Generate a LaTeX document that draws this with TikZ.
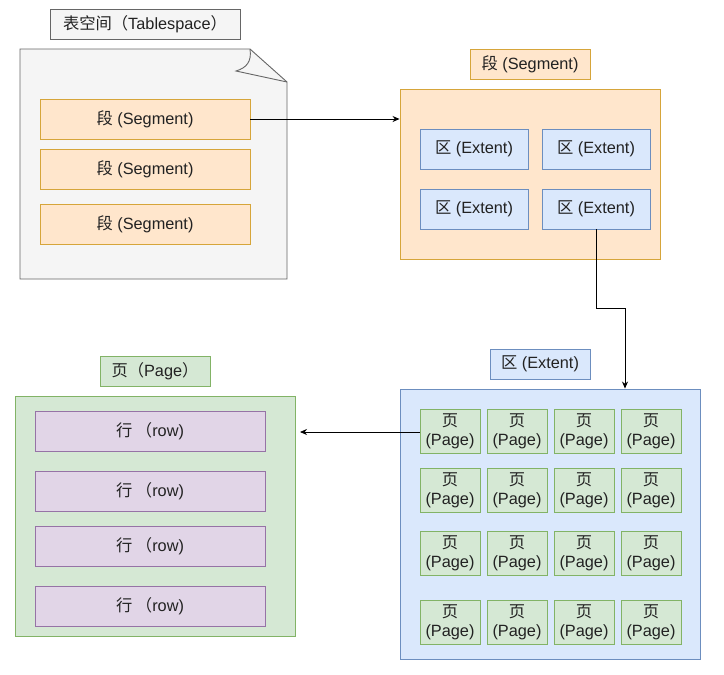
\documentclass[tikz,border=0pt]{standalone}
\usepackage{fontspec}
\setmainfont{Liberation Sans}
\newfontfamily\cjk{Noto Sans CJK SC}
\usetikzlibrary{arrows.meta}
\definecolor{txt}{HTML}{222222}
\definecolor{grayfill}{HTML}{F5F5F5}
\definecolor{graydraw}{HTML}{666666}
\definecolor{orfill}{HTML}{FFE6CC}
\definecolor{ordraw}{HTML}{D6A53A}
\definecolor{blfill}{HTML}{DAE8FC}
\definecolor{bldraw}{HTML}{6C8EBF}
\definecolor{grfill}{HTML}{D5E8D4}
\definecolor{grdraw}{HTML}{82B366}
\definecolor{pufill}{HTML}{E1D5E7}
\definecolor{pudraw}{HTML}{9673A6}
\tikzset{
  box/.style={draw, line width=0.9pt, inner sep=0pt, align=center, text=txt,
    font=\fontsize{16.3}{20}\selectfont},
  graybox/.style={box, fill=grayfill, draw=graydraw},
  orbox/.style={box, fill=orfill, draw=ordraw},
  blbox/.style={box, fill=blfill, draw=bldraw},
  grbox/.style={box, fill=grfill, draw=grdraw},
  pubox/.style={box, fill=pufill, draw=pudraw},
  seg/.style={orbox, minimum width=210pt, minimum height=40pt},
  ext/.style={blbox, minimum width=108pt, minimum height=40pt},
  pg/.style={grbox, minimum width=60pt, minimum height=44pt, font=\fontsize{16.3}{19}\selectfont},
  rowbox/.style={pubox, minimum width=230pt, minimum height=40pt},
  conn/.style={draw=black, line width=0.8pt, -{Stealth[length=7pt,width=6pt]}},
}
\begin{document}
\begin{tikzpicture}[x=1pt,y=-1pt]
\useasboundingbox (0,0) rectangle (724,675);
\fill[white] (0,0) rectangle (724,675);

% Tablespace
\node[graybox, minimum width=190pt, minimum height=30pt] (tslabel) at (145,24) {{\cjk 表空间（}Tablespace{\cjk ）}};
\draw[fill=grayfill, draw=graydraw, line width=0.9pt] (20,49) -- (250,49) -- (287,82) -- (287,279) -- (20,279) -- cycle;
\draw[draw=graydraw, line width=0.9pt] (250,49) .. controls (252,62) and (246,68) .. (236,71) -- (287,82);
\node[seg] (s1) at (145,119) {{\cjk 段} (Segment)};
\node[seg] (s2) at (145,169) {{\cjk 段} (Segment)};
\node[seg] (s3) at (145,224) {{\cjk 段} (Segment)};

% Segment
\node[orbox, minimum width=120pt, minimum height=30pt] (seglabel) at (530,64) {{\cjk 段} (Segment)};
\node[orbox, minimum width=260pt, minimum height=170pt] (segbox) at (530,174) {};
\node[ext] (e1) at (474,149) {{\cjk 区} (Extent)};
\node[ext] (e2) at (596,149) {{\cjk 区} (Extent)};
\node[ext] (e3) at (474,209) {{\cjk 区} (Extent)};
\node[ext] (e4) at (596,209) {{\cjk 区} (Extent)};

% Extent
\node[blbox, minimum width=100pt, minimum height=30pt] (extlabel) at (540,364) {{\cjk 区} (Extent)};
\node[blbox, minimum width=300pt, minimum height=270pt] (extbox) at (550,524) {};
\foreach \r/\y in {1/431,2/490,3/553.5,4/622}{
  \foreach \c/\x in {1/450,2/517,3/584,4/651}{
    \node[pg] (p\r\c) at (\x,\y) {{\cjk 页}\\(Page)};
  }
}

% Page
\node[grbox, minimum width=110pt, minimum height=30pt] (pglabel) at (155,371) {{\cjk 页（}Page{\cjk ）}};
\node[grbox, minimum width=280pt, minimum height=240pt] (pgbox) at (155,516) {};
\node[rowbox] (r1) at (150,431) {{\cjk 行 （}row)};
\node[rowbox] (r2) at (150,491) {{\cjk 行 （}row)};
\node[rowbox] (r3) at (150,546) {{\cjk 行 （}row)};
\node[rowbox] (r4) at (150,606) {{\cjk 行 （}row)};

% connectors
\draw[conn] (s1.east) -- (s1.east -| segbox.west);
\coordinate (bend) at (625,308);
\draw[conn] (e4.south) |- (bend) -- (bend |- extbox.north);
\coordinate (pgend) at (300,432);
\draw[conn] (p11.west |- pgend) -- (pgend);
\end{tikzpicture}
\end{document}
